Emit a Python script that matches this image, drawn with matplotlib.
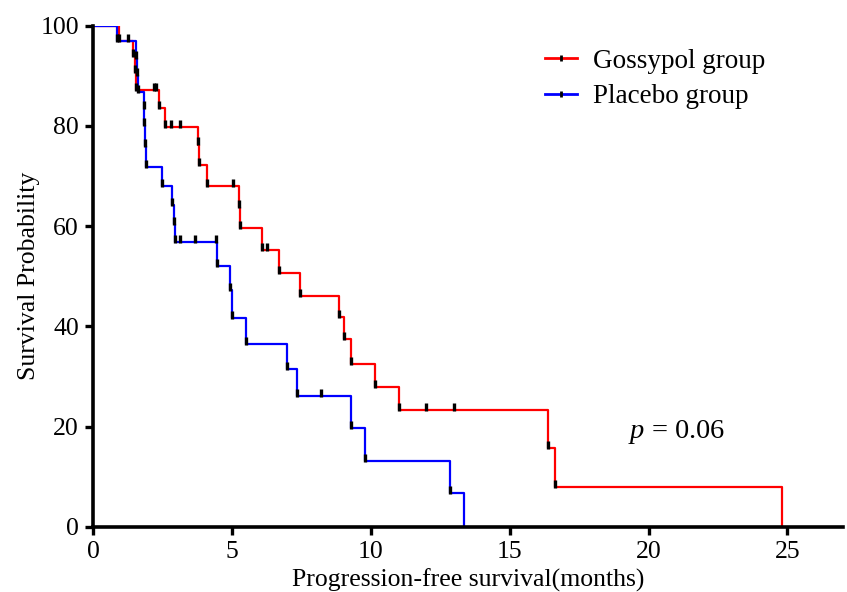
import numpy as np
import matplotlib
matplotlib.use('Agg')
import matplotlib.pyplot as plt
from matplotlib.lines import Line2D

# Kaplan-Meier steps (months, survival %)
gossypol_times = [0.94, 1.45, 1.50, 1.55, 2.36, 2.58, 3.77, 3.80, 4.10, 5.25, 5.28,
                  6.08, 6.69, 7.46, 8.85, 9.03, 9.28, 10.14, 11.00, 16.37, 16.62, 24.80]
gossypol_surv = [97.0, 93.9, 90.7, 87.1, 83.6, 79.8, 76.3, 72.2, 68.0, 63.9, 59.6,
                 55.2, 50.6, 46.1, 41.9, 37.5, 32.5, 27.9, 23.3, 15.8, 8.0, 0.0]
gossypol_censor = [2.20, 2.27, 2.80, 3.13, 5.04, 6.26, 12.00, 12.99]

placebo_times = [0.85, 1.55, 1.58, 1.62, 1.82, 1.85, 1.88, 1.92, 2.49, 2.83, 2.93, 2.95,
                 4.46, 4.93, 5.00, 5.50, 7.00, 7.33, 9.28, 9.78, 12.84, 13.35]
placebo_surv = [96.9, 93.5, 90.2, 86.8, 83.5, 80.1, 76.0, 71.8, 68.0, 64.2, 60.5, 56.8,
                52.0, 47.3, 41.7, 36.5, 31.5, 26.1, 19.7, 13.2, 6.8, 0.0]
placebo_censor = [1.26, 3.13, 3.67, 4.42, 8.20]

x_ticks = [0, 5, 10, 15, 20, 25]
y_ticks = [0, 20, 40, 60, 80, 100]

plt.rcParams['font.family'] = ['Liberation Serif', 'DejaVu Serif']
plt.rcParams['mathtext.fontset'] = 'custom'
plt.rcParams['mathtext.it'] = 'Liberation Serif:italic'
plt.rcParams['mathtext.rm'] = 'Liberation Serif'
FS = 18.5

fig = plt.figure(figsize=(8.47, 5.92), dpi=100)
ax = fig.add_axes([0.1098, 0.1098, 0.8855, 0.8468])


def draw_km(times, surv, censor, color):
    t = np.concatenate([[0.0], times])
    s = np.concatenate([[100.0], surv])
    ax.step(t, s, where='post', color=color, lw=1.6, zorder=2)
    # small black ticks at each drop and at censored times
    ev = np.array(surv) > 0
    ax.plot(np.array(times)[ev], np.array(surv)[ev] + 0.6, ls='none', marker='|',
            color='black', ms=5.5, mew=2.4, zorder=3)
    idx = np.searchsorted(t, censor, side='right') - 1
    ax.plot(censor, s[idx] + 0.6, ls='none', marker='|', color='black',
            ms=5.5, mew=2.4, zorder=3)


draw_km(gossypol_times, gossypol_surv, gossypol_censor, '#ff0000')
draw_km(placebo_times, placebo_surv, placebo_censor, '#0000ff')

ax.set_xlim(0, 27)
ax.set_ylim(0, 100)
ax.set_xticks(x_ticks)
ax.set_yticks(y_ticks)
ax.tick_params(labelsize=FS, width=2.4, length=6, direction='out', pad=4)
for side in ['top', 'right']:
    ax.spines[side].set_visible(False)
for side in ['left', 'bottom']:
    ax.spines[side].set_linewidth(2.6)
ax.set_xlabel('Progression-free survival(months)', fontsize=FS, labelpad=4)
ax.set_ylabel('Survival Probability', fontsize=FS, labelpad=0)

handles = [
    Line2D([0], [0], color='#ff0000', lw=2, marker='|', mec='black', ms=5, mew=2),
    Line2D([0], [0], color='#0000ff', lw=2, marker='|', mec='black', ms=5, mew=2),
]
ax.legend(handles, ['Gossypol group', 'Placebo group'], loc='upper left',
          bbox_to_anchor=(0.643, 0.918), bbox_transform=fig.transFigure,
          frameon=False, fontsize=19.5, handlelength=1.2, handletextpad=0.6,
          labelspacing=0.4, numpoints=1, borderaxespad=0, borderpad=0)

ax.text(21.0, 19.0, r'$p$ = 0.06', fontsize=20.5, ha='center', va='center')

fig.savefig('out.png', dpi=100)
